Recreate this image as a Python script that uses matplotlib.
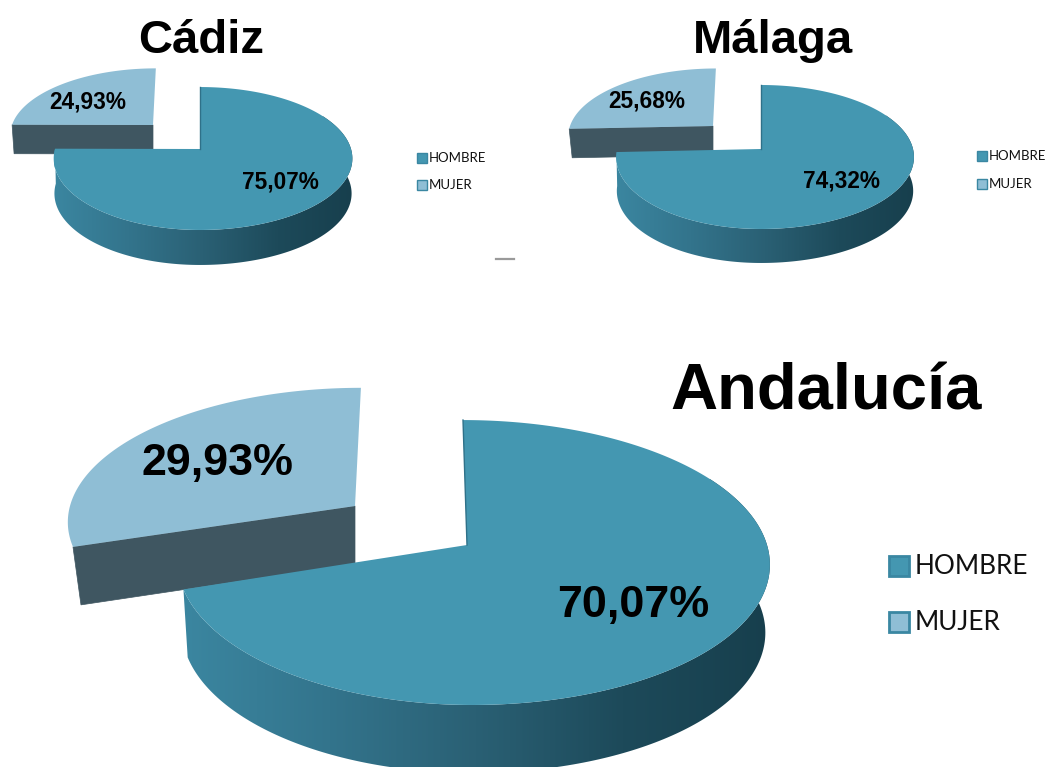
import numpy as np
import matplotlib
matplotlib.use("Agg")
import matplotlib.pyplot as plt
from matplotlib.colors import LinearSegmentedColormap
from matplotlib.patches import Polygon, Rectangle

categories = ["HOMBRE", "MUJER"]
cadiz_values = [75.07, 24.93]
malaga_values = [74.32, 25.68]
andalucia_values = [70.07, 29.93]

TOP_BIG = "#4497b1"
TOP_SMALL = "#8fbed5"
SIDE_SMALL = "#3f5661"
side_cmap = LinearSegmentedColormap.from_list("side", ["#3b86a0", "#33748c", "#2a6074", "#1d4a5a", "#173f4d"])


def ring(g, start, end, n=200):
    # perspective projection of a circle, angles clockwise from 12 o'clock
    t = np.radians(np.linspace(start, end, n))
    u, v = np.sin(t), np.cos(t)
    w = 1 + g["k"] * v
    rx = np.where(u > 0, g["rxr"], g["rxl"])
    y = g["ry"] * v / w
    x = g["cx"] + rx * u / w + g["skew"] * y
    return np.column_stack([x, g["cy"] - y])


def draw_pie(ax, values, big, small):
    split = 360 * values[0] / sum(values)

    # detached wedge first, the big one overlaps its side
    arc = ring(small, split, 360)
    apex = np.array([small["cx"], small["cy"]])
    left = arc[0]
    d = small["depth"]
    ax.add_patch(Polygon([apex, left, left + [small["shift"], d], apex + [0, d]],
                         fc=SIDE_SMALL, ec=SIDE_SMALL, lw=0.5, zorder=2))
    ax.add_patch(Polygon(np.vstack([apex, arc]), fc=TOP_SMALL, ec="none", zorder=3))

    # rim of the big wedge with its left to right shading, starts under the top face
    rim = ring(big, 60, split)
    low = rim.copy()
    low[:, 0] = big["cx"] + (low[:, 0] - big["cx"]) * big["shrink"]
    low[:, 1] += big["depth"]
    outline = np.vstack([rim, low[::-1]])
    patch = Polygon(outline, fc="none", ec="none", zorder=4)
    ax.add_patch(patch)
    x0, x1 = outline[:, 0].min(), outline[:, 0].max()
    y0, y1 = outline[:, 1].min(), outline[:, 1].max()
    grad = np.linspace(0, 1, 256).reshape(1, -1)
    im = ax.imshow(grad, extent=[x0, x1, y1, y0], cmap=side_cmap, aspect="auto", zorder=4)
    im.set_clip_path(patch)

    apex = np.array([big["cx"], big["cy"]])
    top = ring(big, 0, split, 400)
    ax.add_patch(Polygon(np.vstack([apex, top]), fc=TOP_BIG, ec="none", zorder=5))
    ax.plot([apex[0], top[0, 0]], [apex[1], top[0, 1]], color="#2f7189", lw=1, zorder=6)


def draw_legend(ax, x, ys, size, fontsize, gap):
    colors = [TOP_BIG, TOP_SMALL]
    for name, color, y in zip(categories, colors, ys):
        ax.add_patch(Rectangle((x, y - size / 2), size, size, fc=color, ec="#3a87a2",
                               lw=size / 10, zorder=6))
        ax.text(x + size + gap, y, name, fontsize=fontsize, family="Lato",
                color="#111111", va="center", ha="left")


def pct(v):
    return f"{v:.2f}%".replace(".", ",")


fig = plt.figure(figsize=(10.46, 7.67), dpi=100)
ax = fig.add_axes([0, 0, 1, 1])

cadiz_big = dict(cx=200, cy=149, rxl=145, rxr=151, ry=70.2, k=0.133, skew=0, depth=35, shrink=0.995)
cadiz_small = dict(cx=153, cy=125, rxl=141, rxr=141, ry=64, k=0.13, skew=0.05, depth=29, shift=2)
malaga_big = dict(cx=761, cy=149, rxl=144, rxr=152, ry=71.1, k=0.111, skew=0, depth=34, shrink=0.995)
malaga_small = dict(cx=713, cy=126, rxl=143, rxr=143, ry=65, k=0.13, skew=0.05, depth=29, shift=3)
anda_big = dict(cx=467, cy=545, rxl=288, rxr=300, ry=140.3, k=0.123, skew=-0.032, depth=68, shrink=0.985)
anda_small = dict(cx=355, cy=506, rxl=285, rxr=285, ry=130, k=0.10, skew=0.05, depth=58, shift=8)

draw_pie(ax, cadiz_values, cadiz_big, cadiz_small)
draw_pie(ax, malaga_values, malaga_big, malaga_small)
draw_pie(ax, andalucia_values, anda_big, anda_small)

bold = dict(family="Liberation Sans", fontweight="bold", color="black", ha="center", va="center", zorder=8)
ax.text(201, 41, "Cádiz", fontsize=34, **bold)
ax.text(773, 41, "Málaga", fontsize=34, **bold)
ax.text(826, 392, "Andalucía", fontsize=47, **bold)

ax.text(280, 182, pct(cadiz_values[0]), fontsize=16.3, **bold)
ax.text(88, 102, pct(cadiz_values[1]), fontsize=16.3, **bold)
ax.text(842, 181, pct(malaga_values[0]), fontsize=16.3, **bold)
ax.text(647, 101, pct(malaga_values[1]), fontsize=16.3, **bold)
ax.text(633, 606, pct(andalucia_values[0]), fontsize=32.3, **bold)
ax.text(217, 464, pct(andalucia_values[1]), fontsize=32.3, **bold)

draw_legend(ax, 417, [158, 185], 10, 9.5, 2)
draw_legend(ax, 977, [156, 184], 10, 9.5, 2)
draw_legend(ax, 889, [566, 622], 20, 18.8, 6)

# stray dash between the two top charts
ax.plot([496, 514], [259, 259], color="#9a9a9a", lw=1.6)

ax.set_xlim(0, 1046)
ax.set_ylim(767, 0)
ax.axis("off")

fig.savefig("out.png", dpi=100)
